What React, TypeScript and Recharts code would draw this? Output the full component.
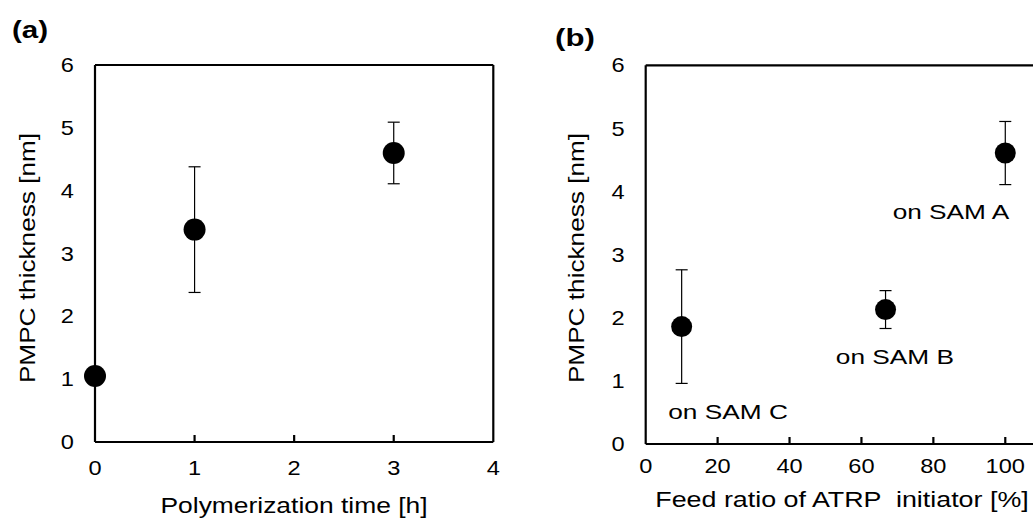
import React from 'react';
import { ScatterChart, Scatter, XAxis, YAxis, ErrorBar, ReferenceLine, ReferenceDot } from 'recharts';

// ---- data: panel (a) ----
const timeHours = [0, 1, 3];
const thicknessByTime = [1.05, 3.38, 4.6];
const sdByTime = [0, 1.0, 0.49];

// ---- data: panel (b) ----
const feedRatio = [10, 66.7, 100];
const thicknessByFeed = [1.86, 2.13, 4.61];
const sdByFeed = [0.9, 0.3, 0.5];
const samNames = ['on SAM C', 'on SAM B', 'on SAM A'];

// ---- tick labels ----
const yTicks = [0, 1, 2, 3, 4, 5, 6];
const xTicksTime = [0, 1, 2, 3, 4];
const xTicksFeed = [0, 20, 40, 60, 80, 100];

// ---- annotation anchor (data coordinates) ----
const samAnchorX = [22.9, 69.3, 84.9];
const samAnchorY = [0.51, 1.38, 3.69];

const dataTime = timeHours.map((x, i) => ({ x, y: thicknessByTime[i], sd: sdByTime[i] }));
const dataFeed = feedRatio.map((x, i) => ({ x, y: thicknessByFeed[i], sd: sdByFeed[i] }));

const FONT = '"Liberation Sans", Arial, sans-serif';
const SX = 1.18;
const TICK_FS = 20;
const AXIS_W = 2.2;
const TICK_PX = 7;
const PLOT_H_A = 442 - 65;
const PLOT_H_B = 444 - 65.3;
const Y_MAX = 6;

const YTick = (props: any) => {
  const { x, y, payload } = props;
  return (
    <g transform={`translate(${x},${y})`}>
      <text transform={`scale(${SX},1)`} textAnchor="end" dy="0.355em" fontSize={TICK_FS} fontFamily={FONT} fill="#000">
        {payload.value}
      </text>
    </g>
  );
};

const XTick = (props: any) => {
  const { x, y, payload } = props;
  return (
    <g transform={`translate(${x},${y})`}>
      <text transform={`scale(${SX},1)`} textAnchor="middle" dy="0.355em" fontSize={TICK_FS} fontFamily={FONT} fill="#000">
        {payload.value}
      </text>
    </g>
  );
};

const innerTicks = (ticks: number[], plotH: number) =>
  ticks
    .filter((t) => t > 0)
    .map((t) => (
      <ReferenceLine
        key={`tk${t}`}
        segment={[
          { x: t, y: 0 },
          { x: t, y: (TICK_PX * Y_MAX) / plotH },
        ]}
        stroke="#000"
        strokeWidth={AXIS_W}
        ifOverflow="visible"
      />
    ));

const Txt = ({ cx, cy, size, bold, rotate, sx, children }: any) => (
  <div
    style={{
      position: 'absolute',
      left: cx,
      top: cy,
      transform: `translate(-50%,-50%) ${rotate ? 'rotate(-90deg)' : ''} scale(${sx},1)`,
      fontSize: size,
      fontWeight: bold ? 700 : 400,
      fontFamily: FONT,
      lineHeight: 1,
      whiteSpace: 'pre',
      color: '#000',
    }}
  >
    {children}
  </div>
);

const Dot = (r: number) => (p: any) => <circle cx={p.cx} cy={p.cy} r={r} fill="#000" />;

export default function App() {
  return (
    <div style={{ position: 'fixed', left: 0, top: 0, width: 1033, height: 521, overflow: 'hidden', background: '#fff' }}>
      <div style={{ position: 'absolute', left: 0, top: 0 }}>
        <ScatterChart width={520} height={521} margin={{ left: 35, top: 65, right: 26.7, bottom: 49 }}>
          <XAxis
            type="number"
            dataKey="x"
            domain={[0, 4]}
            ticks={xTicksTime}
            height={30}
            axisLine={{ stroke: '#000', strokeWidth: AXIS_W }}
            tickLine={false}
            tickSize={0}
            tickMargin={26}
            tick={<XTick />}
          />
          <YAxis
            type="number"
            dataKey="y"
            domain={[0, Y_MAX]}
            ticks={yTicks}
            width={60}
            axisLine={{ stroke: '#000', strokeWidth: AXIS_W }}
            tickLine={false}
            tickSize={0}
            tickMargin={21}
            tick={<YTick />}
          />
          <ReferenceLine y={6} stroke="#000" strokeWidth={AXIS_W} />
          <ReferenceLine x={4} stroke="#000" strokeWidth={AXIS_W} />
          {innerTicks(xTicksTime.slice(0, -1), PLOT_H_A)}
          <Scatter data={dataTime} dataKey="y" isAnimationActive={false} shape={Dot(11)}>
            <ErrorBar dataKey="sd" direction="y" width={6} stroke="#000" strokeWidth={1.2} isAnimationActive={false} />
          </Scatter>
        </ScatterChart>
      </div>

      <div style={{ position: 'absolute', left: 520, top: 0 }}>
        <ScatterChart width={600} height={521} margin={{ left: 65.7, top: 65.3, right: 42.8, bottom: 47 }}>
          <XAxis
            type="number"
            dataKey="x"
            domain={[0, 120]}
            ticks={xTicksFeed}
            height={30}
            axisLine={{ stroke: '#000', strokeWidth: AXIS_W }}
            tickLine={false}
            tickSize={0}
            tickMargin={22}
            tick={<XTick />}
          />
          <YAxis
            type="number"
            dataKey="y"
            domain={[0, Y_MAX]}
            ticks={yTicks}
            width={60}
            axisLine={{ stroke: '#000', strokeWidth: AXIS_W }}
            tickLine={false}
            tickSize={0}
            tickMargin={21}
            tick={<YTick />}
          />
          <ReferenceLine y={6} stroke="#000" strokeWidth={AXIS_W} />
          {innerTicks(xTicksFeed, PLOT_H_B)}
          <Scatter data={dataFeed} dataKey="y" isAnimationActive={false} shape={Dot(10.5)}>
            <ErrorBar dataKey="sd" direction="y" width={6} stroke="#000" strokeWidth={1.2} isAnimationActive={false} />
          </Scatter>
          {samNames.map((name, i) => (
            <ReferenceDot
              key={name}
              x={samAnchorX[i]}
              y={samAnchorY[i]}
              r={1}
              fill="none"
              stroke="none"
              label={(p: any) => {
                const vb = p.viewBox || {};
                const cx = (vb.x ?? 0) + (vb.width ?? 0) / 2;
                const cy = (vb.y ?? 0) + (vb.height ?? 0) / 2;
                return (
                  <text
                    transform={`translate(${cx},${cy}) scale(1.25,1)`}
                    textAnchor="middle"
                    dy="0.355em"
                    fontSize={21}
                    fontFamily={FONT}
                    fill="#000"
                  >
                    {name}
                  </text>
                );
              }}
            />
          ))}
        </ScatterChart>
      </div>

      <Txt cx={30} cy={30} size={24} bold sx={1.23}>(a)</Txt>
      <Txt cx={575} cy={37.5} size={24} bold sx={1.3}>(b)</Txt>
      <Txt cx={294} cy={506} size={22} sx={1.2}>Polymerization time [h]</Txt>
      <Txt cx={841.5} cy={500} size={22} sx={1.22}>{'Feed ratio of ATRP  initiator [%]'}</Txt>
      <Txt cx={28.3} cy={257.5} size={22} rotate sx={1.19}>PMPC thickness [nm]</Txt>
      <Txt cx={576.7} cy={257.5} size={22} rotate sx={1.19}>PMPC thickness [nm]</Txt>
    </div>
  );
}
